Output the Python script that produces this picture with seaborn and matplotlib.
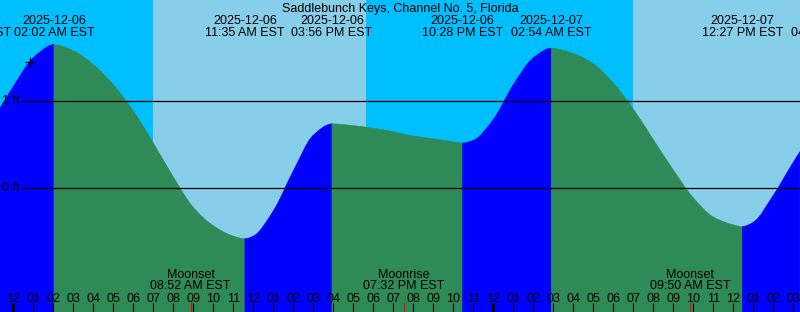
import numpy as np
import pandas as pd
import matplotlib
matplotlib.use("Agg")
import matplotlib.pyplot as plt
import matplotlib.transforms as mtransforms
from matplotlib.path import Path
from matplotlib.patches import PathPatch
import seaborn as sns

# ---------------- data (hours since 2025-12-06 00:00 EST, level in ft) ----------------
sample_hours = [-0.67, 0, 1, 2.033, 3, 4, 5, 6, 7, 8, 9, 10, 11, 11.583, 12, 13, 14, 15,
                15.933, 17, 18, 19, 20, 21, 22, 22.467, 23, 24, 25, 26, 26.9, 28, 29, 30,
                31, 32, 33, 34, 35, 36, 36.45, 37, 38, 39, 39.33]
sample_levels = [0.92, 1.17, 1.50, 1.65, 1.58, 1.42, 1.19, 0.89, 0.52, 0.13, -0.22, -0.43,
                 -0.55, -0.58, -0.55, -0.26, 0.20, 0.61, 0.74, 0.72, 0.69, 0.65, 0.60, 0.57,
                 0.535, 0.52, 0.55, 0.79, 1.19, 1.50, 1.61, 1.55, 1.43, 1.21, 0.91, 0.56, 0.21,
                 -0.11, -0.33, -0.42, -0.44, -0.39, -0.08, 0.30, 0.42]

extreme_hours = [-2.12, 2.033, 11.583, 15.933, 22.467, 26.9, 36.45, 40.9]
extreme_kinds = ["low", "high", "low", "high", "low", "high", "low", "high"]
extreme_dates = ["", "2025-12-06", "2025-12-06", "2025-12-06", "2025-12-06",
                 "2025-12-07", "2025-12-07", "2025-12-07"]
extreme_times = ["09:53 PM EST", "02:02 AM EST", "11:35 AM EST", "03:56 PM EST",
                 "10:28 PM EST", "02:54 AM EST", "12:27 PM EST", "04:54 PM EST"]

sun_hours = [6.985, 17.635, 30.985]          # sunrise, sunset, sunrise
moon_hours = [8.867, 19.533, 33.833]
moon_names = ["Moonset", "Moonrise", "Moonset"]
moon_times = ["08:52 AM EST", "07:32 PM EST", "09:50 AM EST"]

title = "Saddlebunch Keys, Channel No. 5, Florida"
ref_levels = [1, 0]
ref_labels = ["1 ft", "0 ft"]
now_hour, now_level = 0.835, 1.452

# ---------------- styling ----------------
W, H = 800, 312
XMIN, XMAX = -0.665, 39.335
YMIN, YMAX = -1.422, 2.164
NIGHT = "#00BFFF"
DAY = "#87CEEB"
RISE = "#0000FF"
FALL = "#2E8B57"
FONT = "Liberation Sans"
FS = 9.0

sns.set_theme(style="white")
plt.rcParams["font.family"] = [FONT, "DejaVu Sans"]

fig = plt.figure(figsize=(W / 100, H / 100), dpi=100)
ax = fig.add_axes([0, 0, 1, 1])

# day / night background
bounds = [XMIN] + sun_hours + [XMAX]
for i in range(len(bounds) - 1):
    ax.axvspan(bounds[i], bounds[i + 1], color=NIGHT if i % 2 == 0 else DAY, lw=0, zorder=0)

# tide fill: smooth Bezier rendering through the read points (monotone tangents)
df = pd.DataFrame({"hour": sample_hours, "level": sample_levels})
xs = df.hour.to_numpy(float)
ys = df.level.to_numpy(float)
dx = np.diff(xs)
dl = np.diff(ys) / dx
m = np.zeros_like(ys)
m[0], m[-1] = dl[0], dl[-1]
for k in range(1, len(xs) - 1):
    if dl[k - 1] * dl[k] <= 0:
        m[k] = 0.0
    else:
        w1 = 2 * dx[k] + dx[k - 1]
        w2 = dx[k] + 2 * dx[k - 1]
        m[k] = (w1 + w2) / (w1 / dl[k - 1] + w2 / dl[k])

for i in range(1, len(extreme_hours)):
    a, b = extreme_hours[i - 1], extreme_hours[i]
    idx = np.where((xs >= a - 1e-9) & (xs <= b + 1e-9))[0]
    if len(idx) < 2:
        continue
    col = RISE if extreme_kinds[i] == "high" else FALL
    verts = [(xs[idx[0]], YMIN), (xs[idx[0]], ys[idx[0]])]
    codes = [Path.MOVETO, Path.LINETO]
    for j0, j1 in zip(idx[:-1], idx[1:]):
        hh = xs[j1] - xs[j0]
        verts += [(xs[j0] + hh / 3, ys[j0] + m[j0] * hh / 3),
                  (xs[j1] - hh / 3, ys[j1] - m[j1] * hh / 3),
                  (xs[j1], ys[j1])]
        codes += [Path.CURVE4] * 3
    verts += [(xs[idx[-1]], YMIN), (xs[idx[0]], YMIN)]
    codes += [Path.LINETO, Path.CLOSEPOLY]
    ax.add_patch(PathPatch(Path(verts, codes), facecolor=col, edgecolor=col, lw=0.4,
                           zorder=1))

ax.set_xlim(XMIN, XMAX)
ax.set_ylim(YMIN, YMAX)
ax.axis("off")

bt = mtransforms.blended_transform_factory(ax.transData, ax.transAxes)
def ypx(p):
    return 1 - p / H

# reference lines
x_line_start = XMIN + 22 / 20.0
for lv, lb in zip(ref_levels, ref_labels):
    ax.plot([x_line_start, XMAX], [lv, lv], color="black", lw=0.9, zorder=3)
    ax.text(XMIN + 2 / 20.0, lv, lb, ha="left", va="center", fontsize=FS, color="black",
            zorder=4)

# now marker
ax.plot([now_hour], [now_level], marker="+", color="black", ms=6.5, mew=0.9, zorder=4)

# title
ax.text(0.5, ypx(12), title, transform=ax.transAxes, ha="center", va="baseline",
        fontsize=FS, color="black")

# extreme labels
for h, d, t in zip(extreme_hours, extreme_dates, extreme_times):
    if d:
        ax.text(h, ypx(24), d, transform=bt, ha="center", va="baseline", fontsize=FS,
                color="black", clip_on=False)
    ax.text(h, ypx(35.5), t, transform=bt, ha="center", va="baseline", fontsize=FS,
            color="black", clip_on=False)

# moon labels
for h, n, t in zip(moon_hours, moon_names, moon_times):
    ax.text(h, ypx(278), n, transform=bt, ha="center", va="baseline", fontsize=FS, color="black")
    ax.text(h, ypx(289), t, transform=bt, ha="center", va="baseline", fontsize=FS, color="black")
    ax.plot([h, h], [ypx(303), 0], transform=bt, color="#FF0000", lw=0.8, zorder=5)

# hour ticks and labels
for hr in range(0, 40):
    lab = "%02d" % (hr % 12 if hr % 12 else 12)
    ax.text(hr, ypx(302), lab, transform=bt, ha="center", va="baseline", fontsize=FS,
            color="black")
    lw = 2.2 if hr % 24 == 0 else 0.8
    ax.plot([hr, hr], [ypx(303), 0], transform=bt, color="black", lw=lw, zorder=5,
            solid_capstyle="butt")

fig.savefig("out.png", dpi=100)
